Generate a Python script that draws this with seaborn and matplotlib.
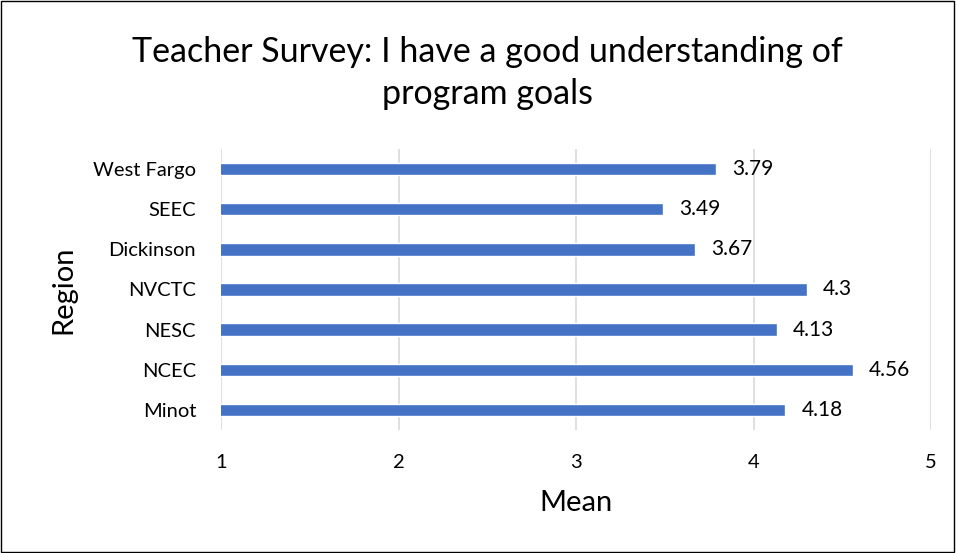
#import modules
import pandas as pd
import seaborn as sns
import matplotlib.pyplot as plt
from matplotlib.patches import Rectangle

#data
regions = ['West Fargo', 'SEEC', 'Dickinson', 'NVCTC', 'NESC', 'NCEC', 'Minot']
means = [3.79, 3.49, 3.67, 4.3, 4.13, 4.56, 4.18]
labels = ['3.79', '3.49', '3.67', '4.3', '4.13', '4.56', '4.18']
xticks = [1, 2, 3, 4, 5]

df = pd.DataFrame({'Region': regions, 'Mean': means})

sns.set_style('white')
plt.rcParams['font.family'] = ['Lato', 'DejaVu Sans']
plt.rcParams['text.color'] = 'black'
plt.rcParams['axes.labelcolor'] = 'black'
plt.rcParams['xtick.color'] = 'black'
plt.rcParams['ytick.color'] = 'black'

fig = plt.figure(figsize=(9.56, 5.53), dpi=100)
ax = fig.add_axes([0.2312, 0.2224, 0.7427, 0.5082])

#plotting
sns.barplot(ax=ax, data=df, x='Mean', y='Region', order=regions, color='#4472C4',
            width=0.31, saturation=1, orient='h')

#plot formatting
ax.set_xlim(1, 5)
ax.set_xticks(xticks)
ax.set_xticklabels([str(t) for t in xticks], fontsize=14.5)
ax.tick_params(axis='y', labelsize=14.5, length=0, pad=18)
ax.tick_params(axis='x', length=0, pad=17)
ax.grid(axis='x', color='#d9d9d9', linewidth=1.2)
ax.set_axisbelow(True)
for s in ax.spines.values():
    s.set_visible(False)
ax.set_xlabel('Mean', fontsize=21, labelpad=14)
ax.set_ylabel('Region', fontsize=21, labelpad=12)

#value labels
for i, (v, lab) in enumerate(zip(means, labels)):
    ax.text(v + 0.09, i, lab, va='center', ha='left', fontsize=15)

#title
fig.text(0.51, 0.868, 'Teacher Survey: I have a good understanding of\nprogram goals',
         ha='center', va='center', fontsize=24.5, linespacing=1.4)

#border
fig.patches.append(Rectangle((0.001, 0.001), 0.997, 0.997, transform=fig.transFigure,
                             fill=False, edgecolor='black', linewidth=1))

plt.savefig('out.png', dpi=100)
